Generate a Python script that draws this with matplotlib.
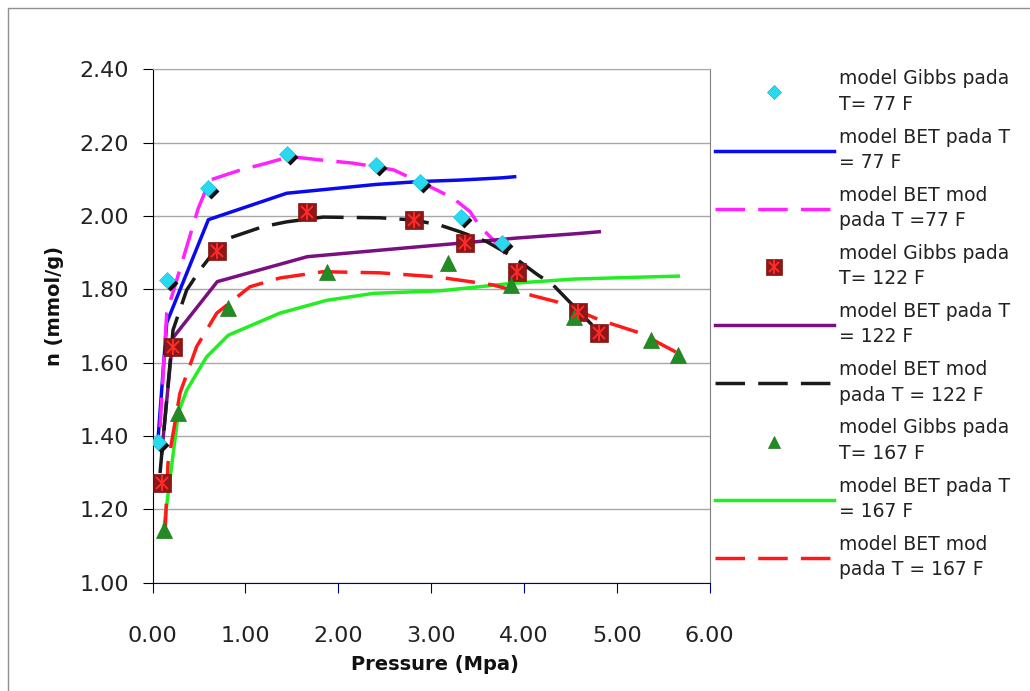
import matplotlib
matplotlib.use('Agg')
import matplotlib.pyplot as plt
import matplotlib.transforms as mtransforms
from matplotlib.lines import Line2D

# data: pressure (MPa) and n (mmol/g)
p_gibbs_77 = [0.06, 0.151, 0.60, 1.444, 2.406, 2.884, 3.319, 3.761]
n_gibbs_77 = [1.385, 1.825, 2.076, 2.168, 2.139, 2.093, 1.996, 1.926]

p_bet_77 = [0.06, 0.151, 0.60, 1.444, 2.406, 2.884, 3.319, 3.761, 3.90]
n_bet_77 = [1.40, 1.709, 1.990, 2.062, 2.086, 2.094, 2.098, 2.104, 2.107]

p_betmod_77 = [0.079, 0.151, 0.491, 0.617, 0.941, 1.228, 1.479, 1.802, 2.162,
               2.593, 3.06, 3.239, 3.419, 3.527, 3.670, 3.883]
n_betmod_77 = [1.424, 1.735, 2.021, 2.098, 2.125, 2.144, 2.162, 2.153, 2.144,
               2.126, 2.071, 2.048, 2.012, 1.971, 1.935, 1.872]

p_gibbs_122 = [0.097, 0.216, 0.696, 1.666, 2.816, 3.366, 3.929, 4.58, 4.812]
n_gibbs_122 = [1.273, 1.644, 1.905, 2.012, 1.990, 1.927, 1.848, 1.739, 1.682]

p_bet_122 = [0.097, 0.216, 0.696, 1.666, 2.816, 3.366, 3.929, 4.58, 4.812]
n_bet_122 = [1.354, 1.667, 1.821, 1.889, 1.915, 1.927, 1.940, 1.952, 1.957]

p_betmod_122 = [0.079, 0.219, 0.366, 0.51, 0.758, 1.189, 1.444, 1.835, 2.449,
                2.816, 3.096, 3.311, 3.599, 3.883, 4.152, 4.314, 4.734]
n_betmod_122 = [1.299, 1.689, 1.798, 1.853, 1.934, 1.971, 1.984, 1.997, 1.995,
                1.989, 1.975, 1.957, 1.930, 1.889, 1.839, 1.812, 1.703]

p_gibbs_167 = [0.122, 0.276, 0.815, 1.875, 3.185, 3.858, 4.54, 5.366, 5.664]
n_gibbs_167 = [1.145, 1.462, 1.748, 1.848, 1.871, 1.812, 1.725, 1.662, 1.621]

p_bet_167 = [0.122, 0.276, 0.366, 0.582, 0.815, 1.37, 1.875, 2.38, 3.10,
             3.858, 4.54, 5.366, 5.664]
n_bet_167 = [1.153, 1.463, 1.525, 1.616, 1.675, 1.735, 1.770, 1.789, 1.796,
             1.816, 1.828, 1.834, 1.836]

p_betmod_167 = [0.133, 0.165, 0.294, 0.474, 0.69, 1.048, 1.372, 1.835, 2.449,
                3.06, 3.419, 3.667, 4.138, 4.353, 4.82, 5.25, 5.66]
n_betmod_167 = [1.135, 1.326, 1.517, 1.644, 1.735, 1.807, 1.831, 1.848, 1.845,
                1.834, 1.821, 1.812, 1.780, 1.766, 1.716, 1.681, 1.626]

labels = ['model Gibbs pada\nT= 77 F', 'model BET pada T\n= 77 F',
          'model BET mod\npada T =77 F', 'model Gibbs pada\nT= 122 F',
          'model BET pada T\n= 122 F', 'model BET mod\npada T = 122 F',
          'model Gibbs pada\nT= 167 F', 'model BET pada T\n= 167 F',
          'model BET mod\npada T = 167 F']

fig = plt.figure(figsize=(10.30, 6.91), dpi=100)
ax = fig.add_axes([152.7 / 1030, 1 - 582.7 / 691, 556.8 / 1030, 513.4 / 691])

lw = 2.5
dash = (8.5, 3.8)

# lines
h_bet77, = ax.plot(p_bet_77, n_bet_77, color='#0a0aee', lw=lw, zorder=3)
h_mod77, = ax.plot(p_betmod_77, n_betmod_77, color='#ff22ff', lw=lw, dashes=dash, zorder=3)
h_bet122, = ax.plot(p_bet_122, n_bet_122, color='#7a1080', lw=lw, zorder=3)
h_mod122, = ax.plot(p_betmod_122, n_betmod_122, color='#1a1a1a', lw=lw, dashes=dash, zorder=3)
h_bet167, = ax.plot(p_bet_167, n_bet_167, color='#22ee22', lw=lw, zorder=3)
h_mod167, = ax.plot(p_betmod_167, n_betmod_167, color='#ff1a1a', lw=lw, dashes=dash, zorder=3)

# diamonds with a small dark shadow
shadow = mtransforms.offset_copy(ax.transData, fig=fig, x=3, y=-3, units='dots')
h_shd, = ax.plot(p_gibbs_77, n_gibbs_77, 'D', ms=8.5, color='#111111', mec='none',
                 transform=shadow, zorder=4)
h_dia, = ax.plot(p_gibbs_77, n_gibbs_77, 'D', ms=8.5, color='#2ad8f0', mec='#22c8e0',
                 mew=0.5, zorder=5)

# squares with red asterisk
h_sq, = ax.plot(p_gibbs_122, n_gibbs_122, 's', ms=13, color='#8e1616', mec='#7a1010',
                mew=0.5, zorder=5)
h_x, = ax.plot(p_gibbs_122, n_gibbs_122, 'x', ms=9, color='#ff2a2a', mew=1.4, zorder=6)
h_v, = ax.plot(p_gibbs_122, n_gibbs_122, '|', ms=12, color='#ff2a2a', mew=1.4, zorder=6)

# triangles
h_tri, = ax.plot(p_gibbs_167, n_gibbs_167, '^', ms=11, color='#238b23', mec='#1e7a1e',
                 mew=0.5, zorder=5)

ax.set_xlim(0, 6)
ax.set_ylim(1.0, 2.4)
ax.set_xticks([0, 1, 2, 3, 4, 5, 6])
ax.set_yticks([1.0, 1.2, 1.4, 1.6, 1.8, 2.0, 2.2, 2.4])
ax.set_xticklabels(['%.2f' % v for v in ax.get_xticks()])
ax.set_yticklabels(['%.2f' % v for v in ax.get_yticks()])
ax.yaxis.grid(True, color='#a8a8a8', lw=1)
ax.set_axisbelow(True)

ax.spines['left'].set_color('black')
ax.spines['bottom'].set_color('#000080')
ax.spines['top'].set_color('#a8a8a8')
ax.spines['right'].set_color('#808080')
ax.tick_params(axis='y', direction='out', length=7, color='black', labelsize=16,
               pad=10, labelcolor='#222222')
ax.tick_params(axis='x', direction='out', length=7, color='#000080', labelsize=16,
               pad=24, labelcolor='#222222')

ax.set_xlabel('Pressure (Mpa)', fontsize=14, fontweight='bold', color='#111111')
ax.set_ylabel('n (mmol/g)', fontsize=14, fontweight='bold', color='#111111')
ax.xaxis.set_label_coords(0.507, -0.14)
ax.yaxis.set_label_coords(-0.16, 0.539)

# legend on the right
handles = [(h_shd, h_dia), h_bet77, h_mod77, (h_sq, h_x, h_v), h_bet122, h_mod122,
           h_tri, h_bet167, h_mod167]
leg = fig.legend(handles, labels, loc='upper left', bbox_to_anchor=(706 / 1030, 1 - 60 / 691),
                 frameon=False, fontsize=13.5, handlelength=6.3, handletextpad=0.3,
                 borderpad=0, labelspacing=0.74, markerscale=0.85, numpoints=1)
for t in leg.get_texts():
    t.set_color('#222222')
    t.set_linespacing(1.42)

# chart area border (left and top only visible)
fig.add_artist(Line2D([8 / 1030, 8 / 1030, 1.0], [0.0, 1 - 8 / 691, 1 - 8 / 691],
                      transform=fig.transFigure, color='#909090', lw=1))

fig.savefig('out.png', dpi=100)
